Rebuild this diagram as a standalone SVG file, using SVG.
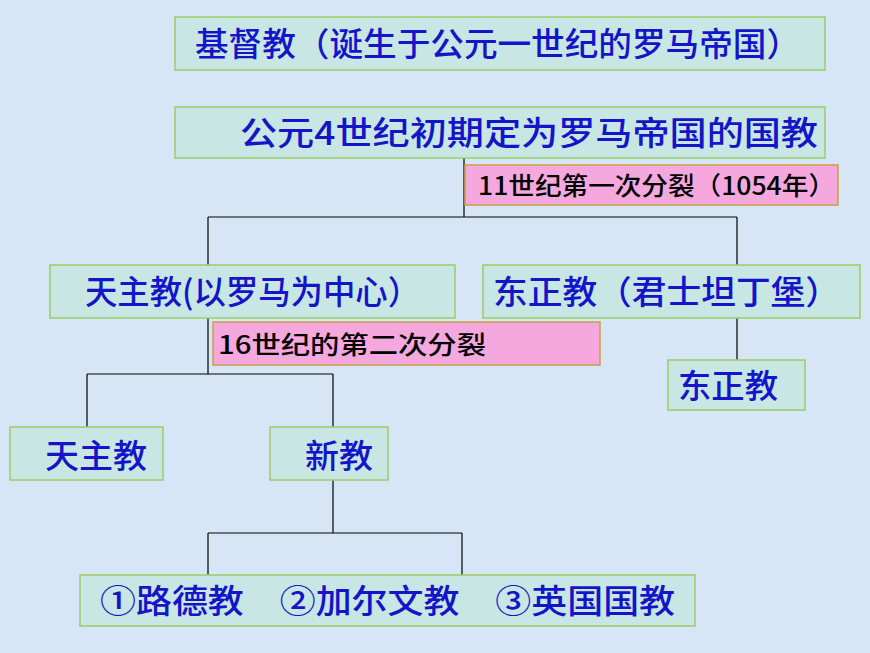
<svg xmlns="http://www.w3.org/2000/svg" width="870" height="653" viewBox="0 0 870 653">
<style>
.b{fill:#c8e6e4;stroke:#9ccc66;stroke-width:1.5}
.p{fill:#f5a8de;stroke:#c8a040;stroke-width:1.5}
.t{font-family:"Noto Sans CJK SC","Liberation Sans",sans-serif;fill:#1414c8;font-size:33px;font-weight:500}
.k{font-family:"Noto Sans CJK SC","Liberation Sans",sans-serif;fill:#000;font-size:25px;font-weight:500}
.c line{stroke:#000;stroke-width:1.2}
</style>
<rect width="870" height="653" fill="#d6e6f6"/>
<g class="c">
<line x1="464" y1="158" x2="464" y2="217"/>
<line x1="208" y1="217" x2="737" y2="217"/>
<line x1="208" y1="217" x2="208" y2="265"/>
<line x1="737" y1="217" x2="737" y2="265"/>
<line x1="208" y1="318" x2="208" y2="374"/>
<line x1="87" y1="374" x2="333" y2="374"/>
<line x1="87" y1="374" x2="87" y2="427"/>
<line x1="333" y1="374" x2="333" y2="427"/>
<line x1="737" y1="318" x2="737" y2="360"/>
<line x1="333" y1="480" x2="333" y2="533"/>
<line x1="208" y1="533" x2="462" y2="533"/>
<line x1="208" y1="533" x2="208" y2="575"/>
<line x1="462" y1="533" x2="462" y2="575"/>
</g>
<g id="n1"><rect class="b" x="175" y="17" width="650" height="53"/><text class="t" x="195" y="56" textLength="605" lengthAdjust="spacingAndGlyphs">基督教（诞生于公元一世纪的罗马帝国）</text></g>
<g id="n2"><rect class="b" x="175" y="107" width="650" height="51"/><text class="t" x="240" y="145" textLength="578" lengthAdjust="spacingAndGlyphs">公元4世纪初期定为罗马帝国的国教</text></g>
<g id="l1"><rect class="p" x="465" y="165" width="373" height="40"/><text class="k" x="478" y="195" textLength="357" lengthAdjust="spacingAndGlyphs">11世纪第一次分裂（1054年）</text></g>
<g id="n3"><rect class="b" x="50" y="265" width="405" height="53"/><text class="t" x="85" y="304" textLength="335" lengthAdjust="spacingAndGlyphs">天主教(以罗马为中心）</text></g>
<g id="n4"><rect class="b" x="483" y="265" width="377" height="53"/><text class="t" x="493" y="304" textLength="347" lengthAdjust="spacingAndGlyphs">东正教（君士坦丁堡）</text></g>
<g id="l2"><rect class="p" x="213" y="322" width="387" height="43"/><text class="k" x="218" y="354" textLength="268" lengthAdjust="spacingAndGlyphs">16世纪的第二次分裂</text></g>
<g id="n5"><rect class="b" x="668" y="360" width="137" height="50"/><text class="t" x="678" y="398" textLength="100" lengthAdjust="spacingAndGlyphs">东正教</text></g>
<g id="n6"><rect class="b" x="10" y="427" width="153" height="53"/><text class="t" x="45" y="468" textLength="102" lengthAdjust="spacingAndGlyphs">天主教</text></g>
<g id="n7"><rect class="b" x="270" y="427" width="118" height="53"/><text class="t" x="305" y="468" textLength="68" lengthAdjust="spacingAndGlyphs">新教</text></g>
<g id="n8"><rect class="b" x="80" y="575" width="615" height="51"/><text class="t" x="100" y="613" textLength="575" lengthAdjust="spacingAndGlyphs">①路德教　②加尔文教　③英国国教</text></g>
</svg>
